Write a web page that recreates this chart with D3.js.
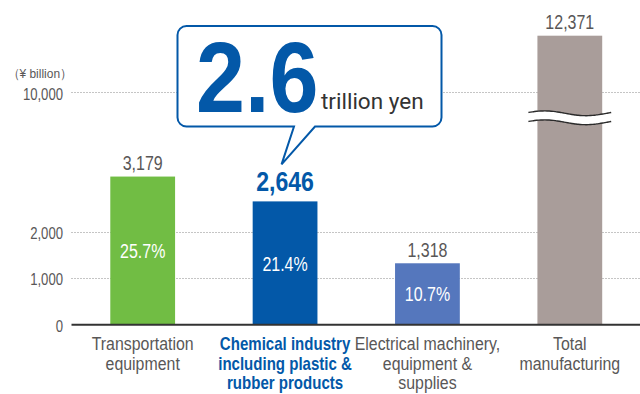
<!DOCTYPE html>
<html>
<head>
<meta charset="utf-8">
<script src="https://cdn.jsdelivr.net/npm/d3@7"></script>
<style>
  html, body { margin: 0; padding: 0; background: #fff; }
  svg { display: block; }
</style>
</head>
<body>
<svg id="chart" width="640" height="394"></svg>
<script>
// Shipments by industry (¥ billion)
const categories = [
  "Transportation equipment",
  "Chemical industry including plastic & rubber products",
  "Electrical machinery, equipment & supplies",
  "Total manufacturing"
];
const categoryLines = [
  ["Transportation", "equipment"],
  ["Chemical industry", "including plastic &", "rubber products"],
  ["Electrical machinery,", "equipment &", "supplies"],
  ["Total", "manufacturing"]
];
const values = [3179, 2646, 1318, 12371];
const shares = ["25.7%", "21.4%", "10.7%", null];
const tickValues = [0, 1000, 2000, 10000];
const tickLabels = ["0", "1,000", "2,000", "10,000"];
const unitLabel = "（¥ billion）";
const calloutUnit = "trillion yen";
const highlightIndex = 1;

const barColors = ["#71bd44", "#0358a8", "#5577bd", "#a99d9a"];
const TEXT = "#595757";
const BLUE = "#0358a8";
const SANS = '"Liberation Sans", Arial, sans-serif';
const REGULAR = 'Roboto, "Liberation Sans", sans-serif';
const SX = 0.82; // horizontal squeeze giving a condensed face

(function draw() {
const svg = d3.select("#chart");

// condensed text placed at (x, y)
function narrow(parent, x, y, str, size, opts = {}) {
  return parent.append("text")
    .attr("transform", `translate(${x},${y}) scale(${opts.sx || SX},1)`)
    .attr("text-anchor", opts.anchor || "middle")
    .attr("fill", opts.fill || TEXT)
    .attr("font-family", SANS)
    .attr("font-weight", opts.bold ? "bold" : "normal")
    .attr("font-size", size)
    .text(str);
}

// Broken value axis: linear up to the break, compressed above it
const y = d3.scaleLinear()
  .domain([0, 3500, 10000, 12371])
  .range([324.7, 324.7 - 3.5 * 46.6, 92.3, 35.7]);

const x = d3.scaleBand()
  .domain(categories)
  .range([71.5, 641])
  .paddingInner(0.545)
  .paddingOuter(0.2725);

const plotLeft = 71.5, plotRight = 640;

// Dotted gridlines
svg.append("g")
  .selectAll("line")
  .data(tickValues.filter(d => d > 0))
  .join("line")
  .attr("x1", plotLeft).attr("x2", plotRight)
  .attr("y1", d => Math.round(y(d)) + 0.5)
  .attr("y2", d => Math.round(y(d)) + 0.5)
  .attr("stroke", "#8a8a8a")
  .attr("stroke-width", 1)
  .attr("stroke-dasharray", "1 2");

// Tick labels
const yAxis = d3.axisLeft(y)
  .tickValues(tickValues)
  .tickFormat((d, i) => tickLabels[i])
  .tickSize(0)
  .tickPadding(0);
const axisG = svg.append("g")
  .attr("transform", "translate(63,0)")
  .call(yAxis);
axisG.select(".domain").remove();
axisG.selectAll("text")
  .attr("fill", TEXT)
  .attr("font-family", SANS)
  .attr("font-size", 16)
  .attr("dy", "0.42em")
  .attr("transform", `scale(${SX},1)`);

narrow(svg, 8, 77.5, unitLabel, 13, { anchor: "start", sx: 0.92 });

// Bars
svg.append("g")
  .selectAll("rect")
  .data(values)
  .join("rect")
  .attr("x", (d, i) => x(categories[i]))
  .attr("width", x.bandwidth())
  .attr("y", d => y(d))
  .attr("height", d => y(0) - y(d))
  .attr("fill", (d, i) => barColors[i]);

// Axis break on the tall bar
const breakIdx = values.length - 1;
const bx0 = x(categories[breakIdx]) - 9;
const bx1 = x(categories[breakIdx]) + x.bandwidth() + 9;
const breakY = y(10000) + 21;
const gap = 9;
const wave = (offset) => d3.range(0, 41).map(k => {
  const t = k / 40;
  return [bx0 + t * (bx1 - bx0), breakY + offset - 2.4 * Math.sin(t * 2 * Math.PI + 0.35)];
});
const upperWave = wave(0), lowerWave = wave(gap);
svg.append("path")
  .attr("d", d3.line()(upperWave.concat(lowerWave.slice().reverse())) + "Z")
  .attr("fill", "#fff");
[upperWave, lowerWave].forEach(pts => {
  svg.append("path")
    .attr("d", d3.line().curve(d3.curveBasis)(pts))
    .attr("fill", "none")
    .attr("stroke", "#2b2b2b")
    .attr("stroke-width", 1.4);
});

// Baseline
svg.append("line")
  .attr("x1", plotLeft).attr("x2", plotRight)
  .attr("y1", y(0)).attr("y2", y(0))
  .attr("stroke", "#333")
  .attr("stroke-width", 2);

// Value labels above bars
const valG = svg.append("g");
values.forEach((v, i) => {
  const hi = i === highlightIndex;
  narrow(valG, x(categories[i]) + x.bandwidth() / 2, y(v) - (hi ? 10 : 6.5),
    d3.format(",")(v), hi ? 27.5 : 19.5, { fill: hi ? BLUE : TEXT, bold: hi, sx: hi ? 0.84 : SX });
});

// Share labels inside bars
const shareG = svg.append("g");
values.forEach((v, i) => {
  if (!shares[i]) return;
  narrow(shareG, x(categories[i]) + x.bandwidth() / 2, (y(v) + y(0)) / 2 + 7.5,
    shares[i], 19.5, { fill: "#fff" });
});

// Category labels
const catG = svg.append("g");
categoryLines.forEach((lines, i) => {
  const hi = i === highlightIndex;
  const t = catG.append("text")
    .attr("transform", `translate(${x(categories[i]) + x.bandwidth() / 2},0) scale(0.86,1)`)
    .attr("text-anchor", "middle")
    .attr("fill", hi ? BLUE : TEXT)
    .attr("font-family", SANS)
    .attr("font-weight", hi ? "bold" : "normal")
    .attr("font-size", hi ? 17.5 : 18.5);
  lines.forEach((line, k) => {
    t.append("tspan")
      .attr("x", 0)
      .attr("y", 350.5 + k * 19.5)
      .text(line);
  });
});

// Speech-bubble callout pointing at the highlighted bar
const bL = 177.5, bR = 441.5, bT = 26, bB = 126.5, r = 9;
const tailL = 294, tailR = 315;
const tipX = x(categories[highlightIndex]) + x.bandwidth() / 2 - 3.5;
const tipY = y(values[highlightIndex]) - 37;
const bubble = d3.path();
bubble.moveTo(bL + r, bT);
bubble.lineTo(bR - r, bT);
bubble.arcTo(bR, bT, bR, bT + r, r);
bubble.lineTo(bR, bB - r);
bubble.arcTo(bR, bB, bR - r, bB, r);
bubble.lineTo(tailR, bB);
bubble.lineTo(tipX, tipY);
bubble.lineTo(tailL, bB);
bubble.lineTo(bL + r, bB);
bubble.arcTo(bL, bB, bL, bB - r, r);
bubble.lineTo(bL, bT + r);
bubble.arcTo(bL, bT, bL + r, bT, r);
bubble.closePath();
svg.append("path")
  .attr("d", bubble.toString())
  .attr("fill", "#fff")
  .attr("stroke", BLUE)
  .attr("stroke-width", 2)
  .attr("stroke-linejoin", "miter");

narrow(svg, 196, 111.5, d3.format(".1f")(values[highlightIndex] / 1000), 100,
  { anchor: "start", fill: BLUE, bold: true, sx: 0.88 });

svg.append("text")
  .attr("x", 321).attr("y", 108.5)
  .attr("fill", "#333")
  .attr("font-family", REGULAR)
  .attr("font-size", 22.5)
  .text(calloutUnit);
})();
</script>
</body>
</html>
